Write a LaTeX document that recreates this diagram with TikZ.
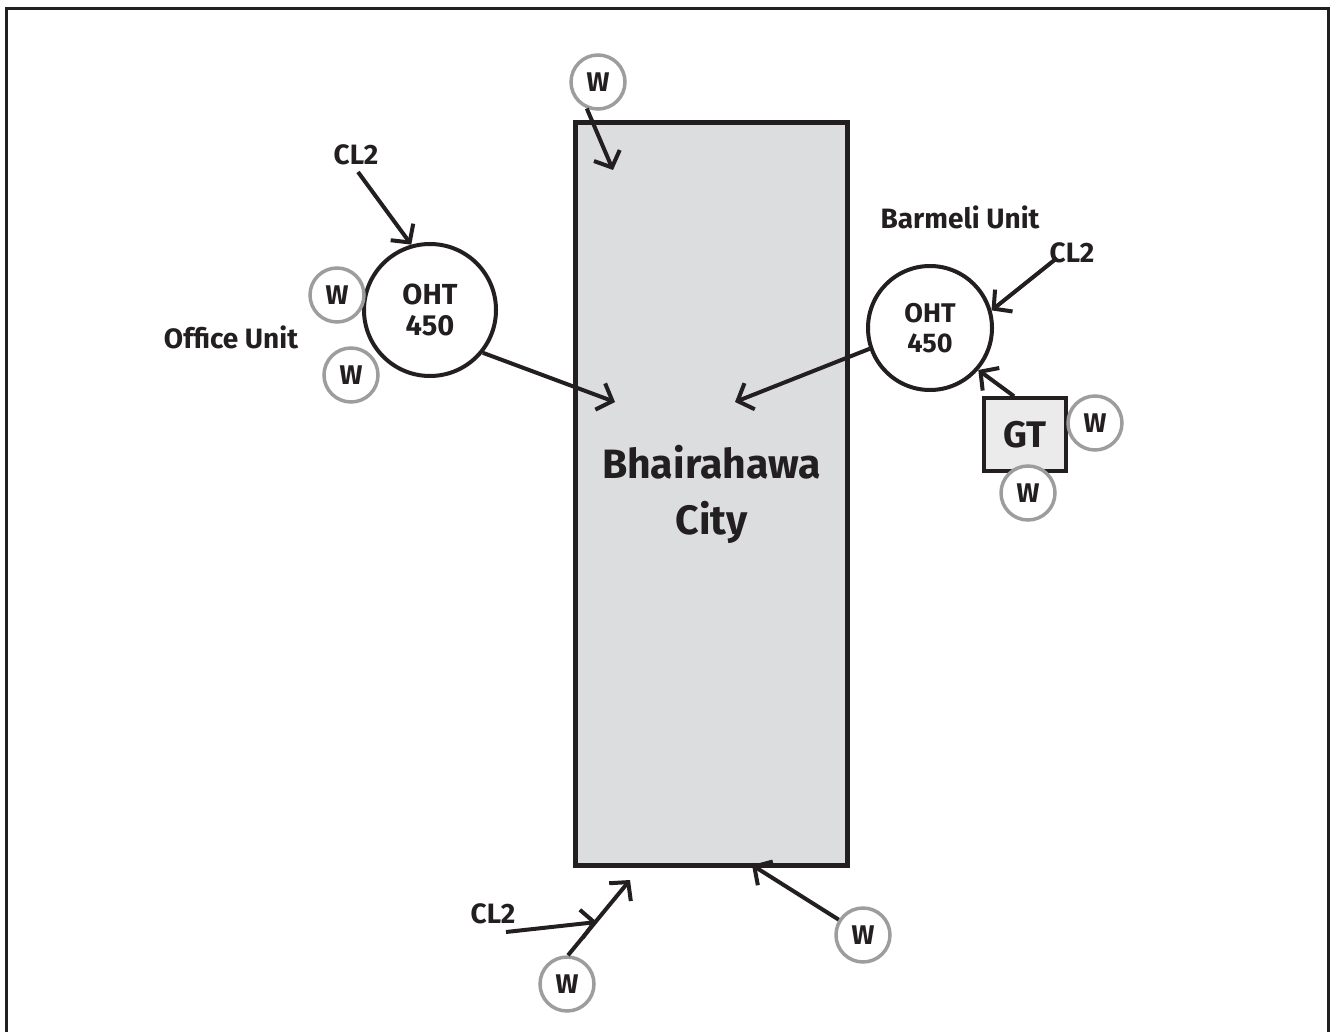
\documentclass[tikz,border=0pt]{standalone}
\usepackage{fontspec}
\setmainfont{Fira Sans}
\usetikzlibrary{arrows.meta}
\definecolor{ink}{HTML}{231F20}
\definecolor{wgray}{HTML}{9D9D9D}
\definecolor{cityfill}{HTML}{DCDDDF}
\definecolor{gtfill}{HTML}{EBEBEB}
\tikzset{
  frameline/.style={draw=ink, line width=3pt},
  citybox/.style={draw=ink, line width=5pt, fill=cityfill, rectangle, minimum width=272pt, minimum height=742pt, inner sep=0pt, align=center, text=ink, font=\bfseries\fontsize{41}{56}\selectfont},
  wnode/.style={draw=wgray, line width=3.5pt, circle, minimum size=54pt, inner sep=0pt, text=ink, fill=white, font=\bfseries\fontsize{27}{28}\selectfont},
  ohtbig/.style={draw=ink, line width=4pt, circle, minimum size=132pt, inner sep=0pt, align=center, text=ink, fill=white, font=\bfseries\fontsize{29}{31}\selectfont},
  ohtsmall/.style={draw=ink, line width=4pt, circle, minimum size=124pt, inner sep=0pt, align=center, text=ink, fill=white, font=\bfseries\fontsize{27}{30}\selectfont},
  gtbox/.style={draw=ink, line width=3.5pt, rectangle, fill=gtfill, minimum width=82pt, minimum height=73pt, inner sep=0pt, text=ink, font=\bfseries\fontsize{37}{38}\selectfont},
  label/.style={inner sep=0pt, text=ink, font=\bfseries\fontsize{28}{30}\selectfont},
  arr/.style={draw=ink, line width=4pt, -{Straight Barb[length=13pt,width=28pt,line width=4pt]}},
}
\begin{document}
\begin{tikzpicture}[x=1pt, y=-1pt]
\useasboundingbox (0,0) rectangle (1330,1032);
\draw[frameline] (6,1032) -- (6,9) -- (1328,9) -- (1328,1032);

% city
\node[citybox] (city) at (711.5,494) {Bhairahawa\\City};

% office unit
\node[ohtbig] (oht1) at (430,310) {OHT\\450};
\node[label] (office) at (231,337) {Office Unit};
\node[label] (cl2a) at (356,155) {CL2};
\node[wnode] (w1) at (337,295) {W};
\node[wnode] (w2) at (351,375) {W};
\coordinate (cl2aS) at (358,172);
\coordinate (e1) at (615,402);

% barmeli unit
\node[ohtsmall] (oht2) at (930,328) {OHT\\450};
\node[label] (barmeli) at (960,217) {Barmeli Unit};
\node[label] (cl2b) at (1072,253) {CL2};
\coordinate (cl2bS) at (1057,258);
\node[gtbox] (gt) at (1025,434.5) {GT};
\node[wnode] (w3) at (1095,423) {W};
\node[wnode] (w4) at (1028,493) {W};
\coordinate (e2) at (735,402);

% top
\node[wnode] (wtop) at (598,82) {W};
\coordinate (e3) at (613,170);

% bottom
\node[wnode] (wbl) at (567,984) {W};
\node[wnode] (wbr) at (863,935) {W};
\node[label] (cl2c) at (493,914) {CL2};
\coordinate (cl2cS) at (506,932);
\coordinate (e4) at (630,880);
\coordinate (e5) at (597,922);
\coordinate (e6) at (752,865);

% arrows
\draw[arr] (cl2aS) -- (oht1.106);
\draw[arr] (oht1.-39) -- (e1);
\draw[arr] (oht2.199) -- (e2);
\draw[arr] (cl2bS) -- (oht2.16);
\draw[arr] (gt.106) -- (oht2.-41);
\draw[arr] (wtop.-113) -- (e3);
\draw[arr] (wbl.88) -- (e4);
\draw[arr] (cl2cS) -- (e5);
\draw[arr] (wbr) -- (e6);
\end{tikzpicture}
\end{document}
